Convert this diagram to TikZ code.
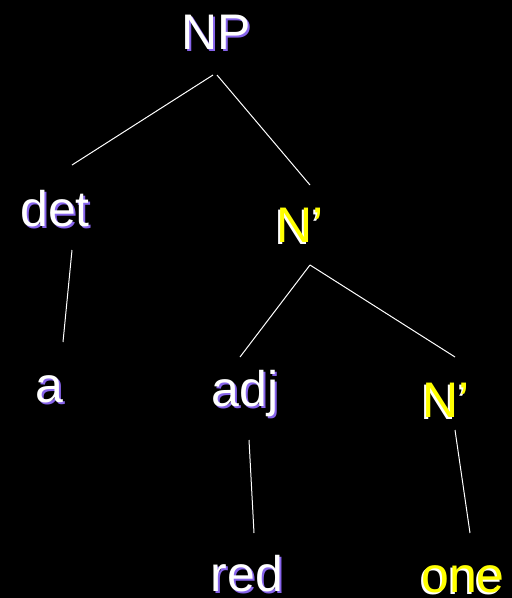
\documentclass[tikz,border=0pt]{standalone}
\usepackage{fontspec}
\setmainfont{Liberation Sans}
\usepackage{xcolor}
\usepackage{tikz}
\usetikzlibrary{positioning}

\definecolor{shadowpurple}{RGB}{135,100,235}
\definecolor{termyellow}{RGB}{255,255,0}

% text with a drop shadow: #1 text colour, #2 shadow colour, #3 x offset, #4 text
\newcommand\shtext[4]{\makebox[0pt][l]{\hspace*{#3}\raisebox{-2pt}{\textcolor{#2}{#4}}}\textcolor{#1}{#4}}

\begin{document}
\begin{tikzpicture}[
    x=1pt, y=-1pt,
    word/.style={anchor=base, inner sep=0pt,
                 font=\fontsize{50}{60}\selectfont},
    branch/.style={draw=white, line width=1pt}
]
    \fill[black] (0,0) rectangle (512,598);
    \useasboundingbox (0,0) rectangle (512,598);

    \node[word] (NP) at (216,49) {\shtext{white}{shadowpurple}{2pt}{NP}};
    \node[word] (DET) at (55,226) {\shtext{white}{shadowpurple}{2pt}{det}};
    \node[word] (NB1) at (300,242) {\shtext{termyellow}{white}{-2pt}{N’}};
    \node[word] (A) at (49,402) {\shtext{white}{shadowpurple}{2pt}{a}};
    \node[word] (ADJ) at (245,406) {\shtext{white}{shadowpurple}{2pt}{adj}};
    \node[word] (NB2) at (446,417) {\shtext{termyellow}{white}{-2pt}{N’}};
    \node[word] (RED) at (247,591) {\shtext{white}{shadowpurple}{2pt}{red}};
    \node[word] (ONE) at (463,592) {\shtext{termyellow}{white}{-2pt}{one}};

    \draw[branch] ([shift={(-3,26)}]NP.base) -- ([shift={(17,-61)}]DET.base);
    \draw[branch] ([shift={(1,26)}]NP.base) -- ([shift={(10,-57)}]NB1.base);
    \draw[branch] ([shift={(17,24)}]DET.base) -- ([shift={(14,-60)}]A.base);
    \draw[branch] ([shift={(10,23)}]NB1.base) -- ([shift={(-5,-49)}]ADJ.base);
    \draw[branch] ([shift={(10,23)}]NB1.base) -- ([shift={(9,-60)}]NB2.base);
    \draw[branch] ([shift={(4,34)}]ADJ.base) -- ([shift={(7,-58)}]RED.base);
    \draw[branch] ([shift={(9,13)}]NB2.base) -- ([shift={(7,-59)}]ONE.base);
\end{tikzpicture}
\end{document}
